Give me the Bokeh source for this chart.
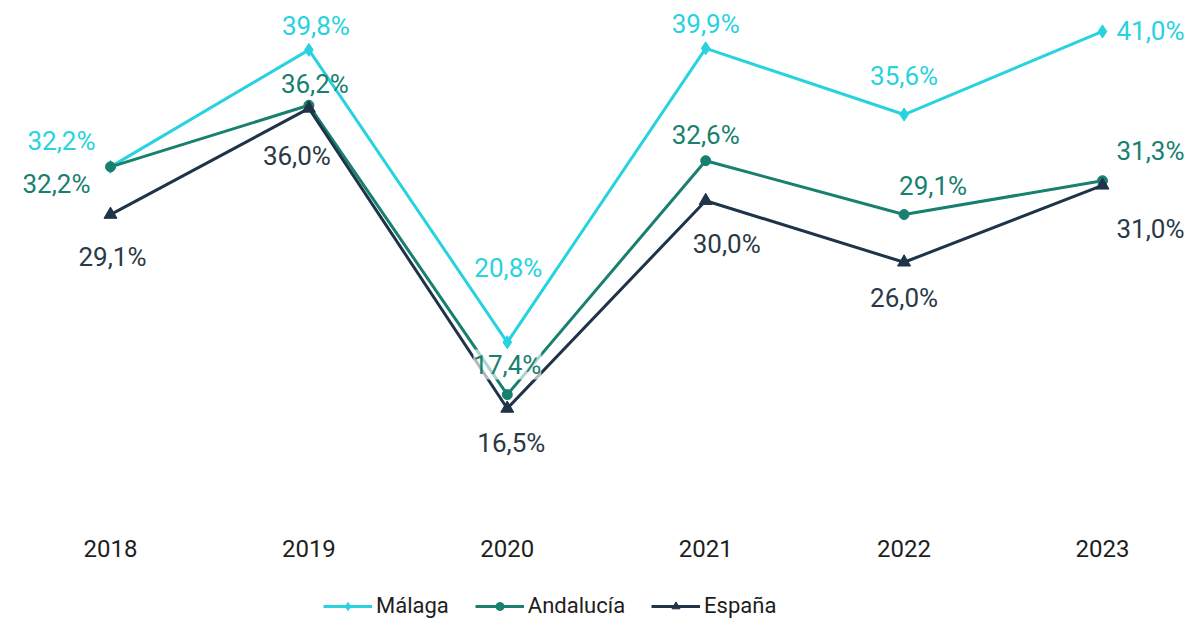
from bokeh.plotting import figure
from bokeh.layouts import column
from bokeh.models import Range1d, FixedTicker, Legend, LegendItem, ColumnDataSource
from bokeh.embed import file_html
from bokeh.resources import INLINE
from bokeh.core.properties import value

# ---- data ----
years = [2018, 2019, 2020, 2021, 2022, 2023]
year_labels = ["2018", "2019", "2020", "2021", "2022", "2023"]
series_names = ["Málaga", "Andalucía", "España"]
malaga = [32.2, 39.8, 20.8, 39.9, 35.6, 41.0]
andalucia = [32.2, 36.2, 17.4, 32.6, 29.1, 31.3]
espana = [29.1, 36.0, 16.5, 30.0, 26.0, 31.0]

# ---- styling ----
colors = ["#28D2DF", "#17806F", "#1F3448"]
label_colors = ["#28D2DF", "#17806F", "#2B3946"]
markers = ["diamond", "circle", "triangle"]
marker_sizes = [13, 10, 13]
# label offsets in screen pixels (dx, dy; dy positive = down)
offsets = [
    [(-49, -26), (7, -24), (1, -74), (0, -24), (0, -39), (48, 0)],
    [(-54, 17), (6, -21), (0, -30), (0, -26), (29, -29), (48, -30)],
    [(2, 42), (-12, 48), (4, 35), (21, 43), (0, 36), (48, 44)],
]
label_bg = [
    [0, 0, 0, 0, 0, 0],
    [0, 0, 0.65, 0, 0, 0],
    [0, 0, 0, 0, 0, 0],
]

FONT = "Roboto"
W = 1195
H_MAIN = 568
H_LEG = 50

p = figure(width=W, height=H_MAIN, output_backend="svg", toolbar_location=None,
           x_range=Range1d(2017.4456, 2023.4688), y_range=Range1d(9.35, 43.01),
           y_axis_location=None, min_border_left=0, min_border_right=0,
           min_border_top=0, min_border_bottom=50)
p.outline_line_color = None
p.xgrid.visible = False
p.ygrid.visible = False
p.background_fill_color = "white"
p.border_fill_color = "white"

xa = p.xaxis[0]
xa.ticker = FixedTicker(ticks=years)
xa.major_label_overrides = {y: lab for y, lab in zip(years, year_labels)}
xa.axis_line_color = None
xa.major_tick_line_color = None
xa.minor_tick_line_color = None
xa.major_tick_out = 0
xa.major_tick_in = 0
xa.major_label_standoff = 21
xa.major_label_text_font = FONT
xa.major_label_text_font_size = "24px"
xa.major_label_text_color = "#1E1E1E"

for k, vals in enumerate([malaga, andalucia, espana]):
    src = ColumnDataSource(dict(x=years, y=vals))
    p.line("x", "y", source=src, line_color=colors[k], line_width=3)
    p.scatter("x", "y", source=src, marker=markers[k], size=marker_sizes[k],
              fill_color=colors[k], line_color=colors[k])

for k, vals in enumerate([malaga, andalucia, espana]):
    labels = [f"{v:.1f}".replace(".", ",") + "%" for v in vals]
    lsrc = ColumnDataSource(dict(x=years, y=vals, t=labels,
                                 dx=[o[0] for o in offsets[k]],
                                 dy=[o[1] for o in offsets[k]],
                                 bga=label_bg[k]))
    p.text("x", "y", text="t", source=lsrc, x_offset="dx", y_offset="dy",
           text_align="center", text_baseline="middle",
           text_font=value(FONT), text_font_size="26px",
           text_color=label_colors[k],
           background_fill_color="white", background_fill_alpha="bga")

# ---- legend strip ----
pl = figure(width=W, height=H_LEG, output_backend="svg", toolbar_location=None,
            x_range=Range1d(0, 1), y_range=Range1d(0, 1),
            x_axis_location=None, y_axis_location=None,
            min_border_left=0, min_border_right=0, min_border_top=0, min_border_bottom=0)
pl.outline_line_color = None
pl.xgrid.visible = False
pl.ygrid.visible = False
items = []
for k, name in enumerate(series_names):
    es = ColumnDataSource(dict(x=[-5, -4], y=[-5, -5]))
    ln = pl.line("x", "y", source=es, line_color=colors[k], line_width=3)
    mk = pl.scatter("x", "y", source=es, marker=markers[k], size=marker_sizes[k] - 2,
                    fill_color=colors[k], line_color=colors[k])
    items.append(LegendItem(label=name, renderers=[ln, mk]))

legend = Legend(items=items, orientation="horizontal", location=(323, 0),
                label_text_font=FONT, label_text_font_size="22px",
                label_text_color="#1E1E1E", glyph_width=49, glyph_height=20,
                spacing=26, padding=0, margin=0, border_line_color=None,
                background_fill_alpha=0, label_standoff=4)
pl.add_layout(legend, "center")

layout = column(p, pl, spacing=0)
open("out.html", "w").write(file_html(layout, INLINE))
